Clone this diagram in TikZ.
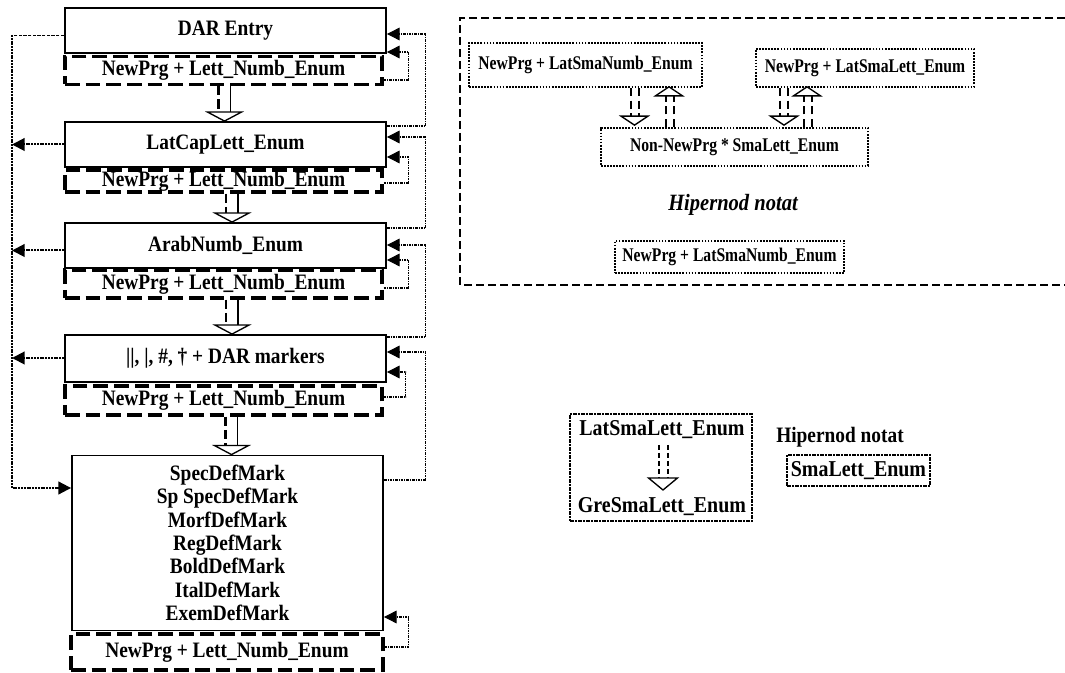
\documentclass[tikz,border=0pt]{standalone}
\usepackage{fontspec}
\setmainfont{Liberation Serif}
\newfontfamily\narrowserif[FakeStretch=0.88]{Liberation Serif}
\newfontfamily\tightserif[FakeStretch=0.81]{Liberation Serif}
\usetikzlibrary{arrows.meta,calc}

\tikzset{
  big/.style={font=\narrowserif\bfseries\fontsize{16.5}{19.5}\selectfont},
  small/.style={font=\tightserif\bfseries\fontsize{14.5}{17}\selectfont},
  wh/.style 2 args={minimum width=#1*0.75pt, minimum height=#2*0.75pt},
  stage/.style={draw, rectangle, line width=1.4pt, inner sep=0pt, align=center, big},
  subbox/.style={draw, rectangle, line width=2.3pt, dash pattern=on 11pt off 4.5pt, inner sep=0pt, big},
  hbox/.style={draw, rectangle, line width=1.3pt, densely dotted, inner sep=0pt, small},
  dbox/.style={draw, rectangle, line width=1.1pt, dash pattern=on 3pt off 1pt on 1pt off 1pt, inner sep=0pt, big},
  txt/.style={inner sep=0pt, big},
  shaftsolid/.style={line width=1.2pt},
  shaftdash/.style={line width=2.2pt, dash pattern=on 7pt off 3pt},
  hshaft/.style={line width=1.5pt, dash pattern=on 6pt off 3.5pt},
  opentri/.style={draw, fill=white, line width=1pt, line join=miter},
  fbthin/.style={line width=0.7pt, dash pattern=on 2.5pt off 1pt},
  fbthick/.style={line width=1.5pt, dash pattern=on 1.5pt off 0.6pt},
  fbright/.style={line width=0.8pt, dash pattern=on 2pt off 0.8pt on 0.6pt off 0.8pt},
  tip/.style={-{Triangle[length=9.5pt,width=9.5pt]}},
  frame/.style={line width=0.8pt, dash pattern=on 6pt off 3pt},
}

\begin{document}
\begin{tikzpicture}[x=0.75pt,y=-0.75pt]
\useasboundingbox (0,0) rectangle (1065,673);

% ---------- left column: processing stages ----------
\node[stage, wh={321}{45}] (s1) at (225.5,30.5) {DAR Entry};
\node[subbox, wh={317}{28}] (n1) at (223.5,70.5) {NewPrg + Lett\_Numb\_Enum};
\node[stage, wh={321}{45}] (s2) at (225.5,144.5) {LatCapLett\_Enum};
\node[subbox, wh={317}{22}] (n2) at (223.5,181) {NewPrg + Lett\_Numb\_Enum};
\node[stage, wh={321}{45}] (s3) at (225.5,245.5) {ArabNumb\_Enum};
\node[subbox, wh={317}{28}] (n3) at (223.5,284) {NewPrg + Lett\_Numb\_Enum};
\node[stage, wh={321}{47}] (s4) at (225.5,358.5) {||, |, \#, † + DAR markers};
\node[subbox, wh={317}{29}] (n4) at (223.5,400.5) {NewPrg + Lett\_Numb\_Enum};
\node[stage, wh={311}{175}, font=\narrowserif\bfseries\fontsize{16.5}{17.5}\selectfont] (s5) at (227.5,543)
  {SpecDefMark\\Sp SpecDefMark\\MorfDefMark\\RegDefMark\\BoldDefMark\\ItalDefMark\\ExemDefMark};
\node[subbox, wh={312}{36}] (n5) at (227,652) {NewPrg + Lett\_Numb\_Enum};

% downward transitions between stages (dashed + solid shaft, open head)
\foreach \from/\to/\dx in {n1/s2/-1, n2/s3/6.5, n3/s4/6.5, n4/s5/4}{
  \coordinate (t) at ($(\to.north)+(\dx,0)$);
  \draw[shaftdash]  ($(\from.south -| t)+(-6,0)$) -- ($(t)+(-6,-9)$);
  \draw[shaftsolid] ($(\from.south -| t)+(6,0)$)  -- ($(t)+(6,-9)$);
  \draw[opentri] (t) -- ($(t)+(-17,-9)$) -- ($(t)+(17,-9)$) -- cycle;
}

% left return bus
\coordinate (lt) at (12,35);
\coordinate (lb) at (12,488);
\draw[fbthin] ($(s1.west)+(0,4.5)$) -- (lt);
\draw[fbthick, tip] (lt) -- (lb) -- ($(s5.west)+(0,-55)$);
\draw[fbthick, tip] (s2.west) -- (s2.west -| lb);
\draw[fbthick, tip] ($(s3.west)+(0,5)$) -- ($(s3.west -| lb)+(0,5)$);
\draw[fbthick, tip] ($(s4.west)+(0,-0.5)$) -- ($(s4.west -| lb)+(0,-0.5)$);

% right returns to the previous stage
\draw[fbright, tip] ($(s2.east)+(0,-18.5)$) -| ($(s1.east)+(39,3.5)$) -- ($(s1.east)+(0,3.5)$);
\draw[fbright, tip] ($(s3.east)+(0,-17.5)$) -| ($(s2.east)+(39,-7.5)$) -- ($(s2.east)+(0,-7.5)$);
\draw[fbright, tip] ($(s4.east)+(0,-21.5)$) -| ($(s3.east)+(39,-0.5)$) -- ($(s3.east)+(0,-0.5)$);
\draw[fbright, tip] ($(s5.east)+(0,-63)$) -| ($(s4.east)+(39,-6.5)$) -- ($(s4.east)+(0,-6.5)$);

% self loops from each sub-box back to its stage
\draw[fbright, tip] ($(n1.east)+(0,9.5)$) -| ($(s1.east)+(22,21.5)$) -- ($(s1.east)+(0,21.5)$);
\draw[fbright, tip] ($(n2.east)+(0,2)$)   -| ($(s2.east)+(22,12.5)$) -- ($(s2.east)+(0,12.5)$);
\draw[fbright, tip] ($(n3.east)+(0,4)$)   -| ($(s3.east)+(22,14.5)$) -- ($(s3.east)+(0,14.5)$);
\draw[fbright, tip] ($(n4.east)+(0,-3.5)$) -| ($(s4.east)+(19,13.5)$) -- ($(s4.east)+(0,13.5)$);
\draw[fbright, tip] ($(n5.east)+(0,-5)$)  -| ($(s5.east)+(25,74)$) -- ($(s5.east)+(0,74)$);

% ---------- right panel: hypernode notation ----------
\draw[frame] (1065,18) -- (460,18) -- (460,285) -- (1065,285);
\node[hbox, wh={233}{44}] (A) at (585.5,65) {NewPrg + LatSmaNumb\_Enum};
\node[hbox, wh={218}{38}] (B) at (865,68) {NewPrg + LatSmaLett\_Enum};
\node[hbox, wh={267}{38}] (C) at (734.5,147) {Non-NewPrg * SmaLett\_Enum};
\node[inner sep=0pt, font=\narrowserif\bfseries\itshape\fontsize{17.5}{20}\selectfont] (hn) at (733,205) {Hipernod notat};
\node[hbox, wh={229}{32}] (D) at (729.5,257) {NewPrg + LatSmaNumb\_Enum};

% down arrows into C
\foreach \from/\dx in {A/-100, B/49.5}{
  \coordinate (t) at ($(C.north)+(\dx,-2)$);
  \draw[hshaft] ($(\from.south -| t)+(-4,0)$) -- ($(t)+(-4,-9)$);
  \draw[hshaft] ($(\from.south -| t)+(4,0)$)  -- ($(t)+(4,-9)$);
  \draw[opentri] (t) -- ($(t)+(-13.5,-9)$) -- ($(t)+(13.5,-9)$) -- cycle;
}
% up arrows out of C
\foreach \to/\dx in {A/83.5, B/-58}{
  \coordinate (t) at ($(\to.south)+(\dx,-1)$);
  \draw[hshaft] ($(C.north -| t)+(-3,0)$) -- ($(t)+(-3,9)$);
  \draw[hshaft] ($(C.north -| t)+(5,0)$)  -- ($(t)+(5,9)$);
  \draw[opentri] (t) -- ($(t)+(-13.5,9)$) -- ($(t)+(13.5,9)$) -- cycle;
}

% ---------- lower right: hypernode example ----------
\node[dbox, wh={182}{107}] (E) at (661,467.5) {};
\node[txt, font=\narrowserif\bfseries\fontsize{17}{20}\selectfont] (e1) at (662,430) {LatSmaLett\_Enum};
\node[txt, font=\narrowserif\bfseries\fontsize{17}{20}\selectfont] (e2) at (662,507) {GreSmaLett\_Enum};
\coordinate (t) at ($(e2.center)+(1,-17)$);
\draw[line width=0.8pt, dash pattern=on 4pt off 2pt] ($(e1.center -| t)+(-4,15)$) -- ($(t)+(-4,-12)$);
\draw[line width=1.6pt, dash pattern=on 4pt off 2pt] ($(e1.center -| t)+(5,15)$) -- ($(t)+(5,-12)$);
\draw[opentri] (t) -- ($(t)+(-14.5,-12)$) -- ($(t)+(14.5,-12)$) -- cycle;

\node[txt, font=\narrowserif\bfseries\fontsize{16.5}{20}\selectfont] (hn2) at (840,437) {Hipernod notat};
\node[dbox, wh={143}{31}, font=\narrowserif\bfseries\fontsize{17}{20}\selectfont] (F) at (858.5,470.5) {SmaLett\_Enum};

\end{tikzpicture}
\end{document}
